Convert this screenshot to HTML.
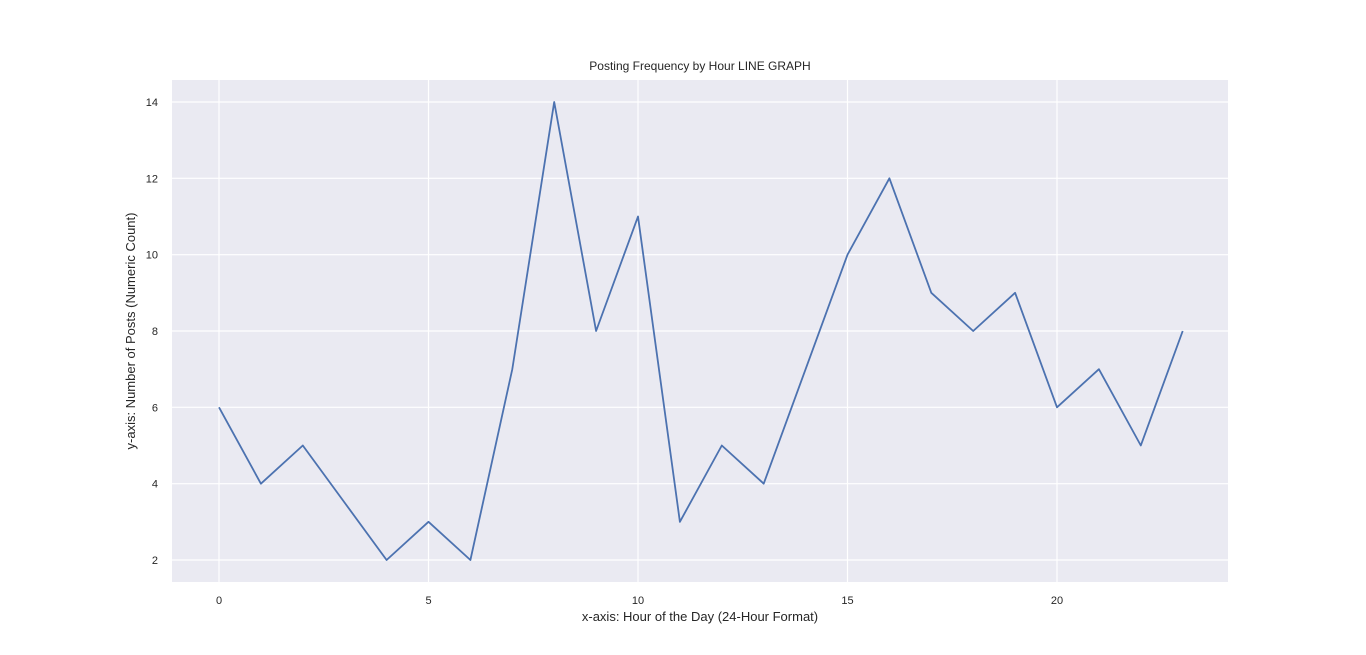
<!DOCTYPE html>
<html><head><meta charset="utf-8">
<style>
html,body{margin:0;padding:0;background:#fff;}
svg{display:block;font-family:"Liberation Sans","DejaVu Sans",sans-serif;}
</style></head>
<body>
<svg id="chart" width="1366" height="655">
<rect x="172" y="80" width="1056" height="502" fill="#eaeaf2"/>
<g id="grid"></g>
<g id="ticks"></g>
<g id="series"></g>
<text x="700" y="70" text-anchor="middle" font-size="12" fill="#262626">Posting Frequency by Hour LINE GRAPH</text>
<text x="700" y="621" text-anchor="middle" font-size="13" fill="#262626">x-axis: Hour of the Day (24-Hour Format)</text>
<text x="135" y="331" text-anchor="middle" font-size="13" fill="#262626" transform="rotate(-90 135 331)">y-axis: Number of Posts (Numeric Count)</text>
</svg>
<script>
const hours = [0,1,2,3,4,5,6,7,8,9,10,11,12,13,14,15,16,17,18,19,20,21,22,23];
const posts = [6,4,5,3.5,2,3,2,7,14,8,11,3,5,4,7,10,12,9,8,9,6,7,5,8];
const xTicks = [0,5,10,15,20];
const yTicks = [2,4,6,8,10,12,14];
const NS = "http://www.w3.org/2000/svg";
function xs(v){return 219 + (v-0)*(428.5-219)/5;}
function ys(v){return 560 - (v-2)*(560-102)/12;}
const grid = document.getElementById('grid');
const ticks = document.getElementById('ticks');
xTicks.forEach(t=>{
  const l=document.createElementNS(NS,'line');
  l.setAttribute('x1',xs(t));l.setAttribute('x2',xs(t));l.setAttribute('y1',80);l.setAttribute('y2',582);
  l.setAttribute('stroke','#fff');l.setAttribute('stroke-width','1.2');
  
  
  grid.appendChild(l);
  const tx=document.createElementNS(NS,'text');
  tx.setAttribute('x',xs(t));tx.setAttribute('y',604);tx.setAttribute('text-anchor','middle');
  tx.setAttribute('font-size','11');tx.setAttribute('fill','#262626');tx.textContent=t;
  
  
  ticks.appendChild(tx);
});
yTicks.forEach(t=>{
  const l=document.createElementNS(NS,'line');
  l.setAttribute('x1',172);l.setAttribute('x2',1228);l.setAttribute('y1',ys(t));l.setAttribute('y2',ys(t));
  l.setAttribute('stroke','#fff');l.setAttribute('stroke-width','1.2');
  
  
  grid.appendChild(l);
  const tx=document.createElementNS(NS,'text');
  tx.setAttribute('x',158);tx.setAttribute('y',ys(t)+4);tx.setAttribute('text-anchor','end');
  tx.setAttribute('font-size','11');tx.setAttribute('fill','#262626');tx.textContent=t;
  
  
  ticks.appendChild(tx);
});
const p=document.createElementNS(NS,'polyline');
p.setAttribute('points',hours.map((h,i)=>xs(h)+','+ys(posts[i])).join(' '));
p.setAttribute('fill','none');p.setAttribute('stroke','#4c72b0');p.setAttribute('stroke-width','1.8');
p.setAttribute('stroke-linejoin','round');


document.getElementById('series').appendChild(p);
</script>
</body></html>
